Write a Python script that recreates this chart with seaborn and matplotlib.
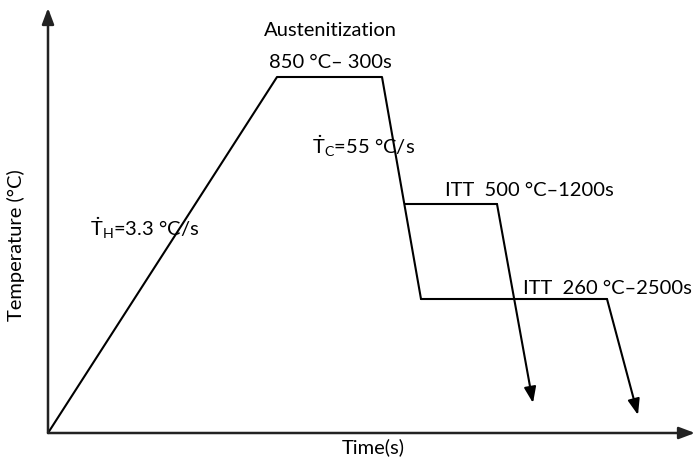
import matplotlib
matplotlib.use("Agg")
import matplotlib.pyplot as plt
import seaborn as sns
import pandas as pd

sns.set_theme(style="white")
plt.rcParams['font.family'] = ['Lato', 'DejaVu Sans']
plt.rcParams['mathtext.fontset'] = 'custom'
plt.rcParams['mathtext.rm'] = 'Lato'
plt.rcParams['mathtext.it'] = 'Lato'

# schematic path (arbitrary time / temperature units)
path_ids = ["main", "main", "main", "main", "itt500", "itt500", "itt260", "itt260"]
time_pts = [0, 229, 334, 373, 357, 449, 373, 559]
temp_pts = [0, 356, 356, 134, 229, 229, 134, 134]
# hold end points for ITT branches and quench arrow tips
itt_hold_end_t = [449, 559]
itt_hold_temp = [229, 134]
quench_tip_t = [485, 590]
quench_tip_temp = [30, 18]

labels = ["Austenitization", "850 °C– 300s", r"$\mathrm{\dot{T}_C}$=55 °C/s",
          r"$\mathrm{\dot{T}_H}$=3.3 °C/s", "ITT  500 °C–1200s", "ITT  260 °C–2500s"]
label_t = [282, 282, 264, 42, 397, 475]
label_temp = [402, 371, 287, 205, 242, 144]
label_ha = ["center", "center", "left", "left", "left", "left"]

df = pd.DataFrame({"path": path_ids, "t": time_pts, "T": temp_pts})

fig = plt.figure(figsize=(6.95, 4.63), dpi=100)
ax = fig.add_axes([0, 0, 1, 1])
sns.lineplot(data=df, x="t", y="T", units="path", estimator=None, sort=False,
             color="black", lw=1.5, ax=ax, legend=False)

for t0, T0, t1, T1 in zip(itt_hold_end_t, itt_hold_temp, quench_tip_t, quench_tip_temp):
    ax.annotate("", xy=(t1, T1), xytext=(t0, T0),
                arrowprops=dict(arrowstyle="-|>,head_length=0.8,head_width=0.3",
                                color="black", lw=1.5, shrinkA=0, shrinkB=0))

# axes with arrows
ax.annotate("", xy=(0, 425), xytext=(0, 0),
            arrowprops=dict(arrowstyle="-|>,head_length=0.8,head_width=0.3",
                            color="#222222", lw=1.8, shrinkA=0, shrinkB=0))
ax.annotate("", xy=(647, 0), xytext=(0, 0),
            arrowprops=dict(arrowstyle="-|>,head_length=0.8,head_width=0.3",
                            color="#222222", lw=1.8, shrinkA=0, shrinkB=0))

for s, x, y, ha in zip(labels, label_t, label_temp, label_ha):
    ax.text(x, y, s, ha=ha, va="center", fontsize=14.5, color="black")

ax.text(-32, 188, "Temperature (°C)", rotation=90, ha="center", va="center",
        fontsize=14.5, color="black")
ax.text(325, -14, "Time(s)", ha="center", va="center", fontsize=14.5, color="black")

ax.set_xlim(-48, 647)
ax.set_ylim(-30, 433)
ax.set_axis_off()
fig.savefig("out.png", dpi=100)
